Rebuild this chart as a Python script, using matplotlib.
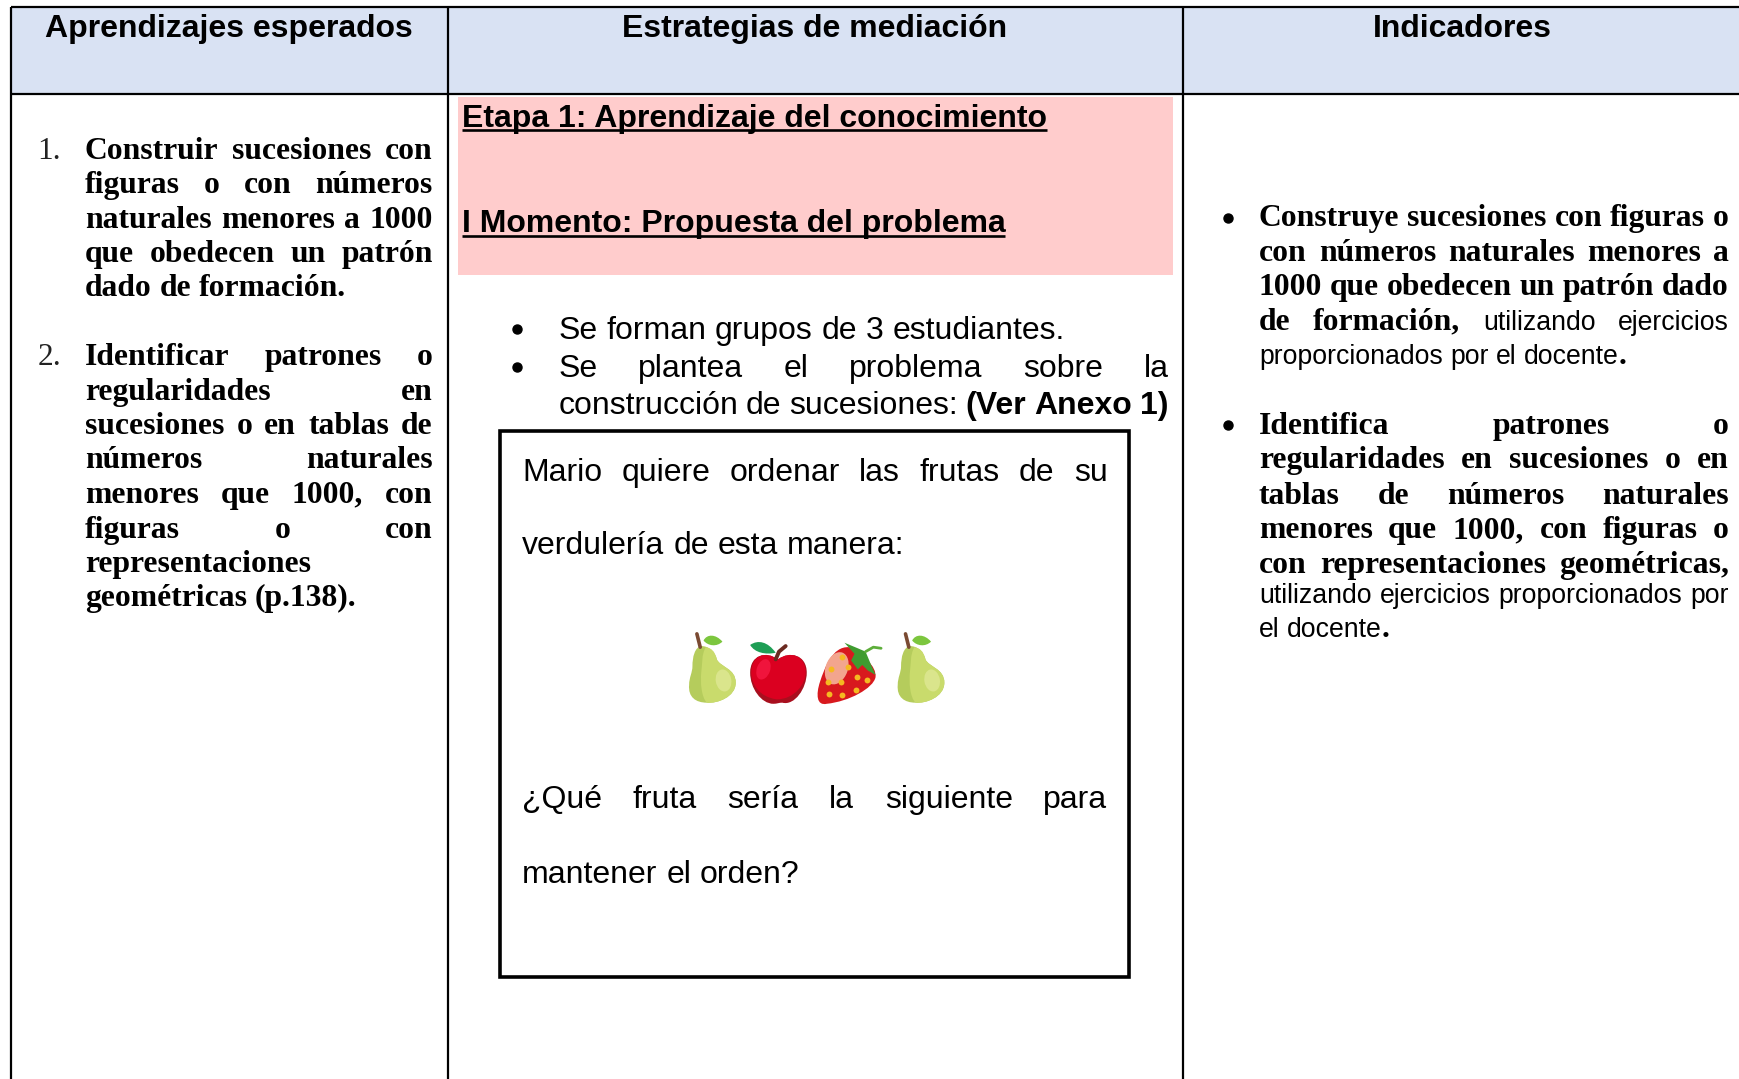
import matplotlib
matplotlib.use('Agg')
import matplotlib.pyplot as plt
from matplotlib.font_manager import FontProperties
from matplotlib.path import Path
from matplotlib.patches import PathPatch, Rectangle, Ellipse, Polygon

# everything below is in the 1568x972 coordinates of the shrunk reference
SCALE = 1740 / 1568

headers = ['Aprendizajes esperados', 'Estrategias de mediación', 'Indicadores']
header_centers = [206, 734, 1318]

B = 'serif'
N = 'sans'
A = 'sansb'

col1_numbers = ['1.', '2.']
col1_number_y = [143, 329]
col1_lines = [
    ('Construir sucesiones con', 143, True),
    ('figuras o con números', 174, True),
    ('naturales menores a 1000', 205, True),
    ('que obedecen un patrón', 236, True),
    ('dado de formación.', 267, False),
    ('Identificar patrones o', 329, True),
    ('regularidades en', 360, True),
    ('sucesiones o en tablas de', 391, True),
    ('números naturales', 422, True),
    ('menores que 1000, con', 453, True),
    ('figuras o con', 485, True),
    ('representaciones', 515, False),
    ('geométricas (p.138).', 546, False),
]

col3_bullet_y = [196, 383]
col3_lines = [
    ([('Construye sucesiones con figuras o', B)], 204, True),
    ([('con números naturales menores a', B)], 235, True),
    ([('1000 que obedecen un patrón dado', B)], 266, True),
    ([('de formación, ', B), ('utilizando ejercicios', N)], 297, True),
    ([('proporcionados por el docente', N), ('.', B)], 328, False),
    ([('Identifica patrones o', B)], 391, True),
    ([('regularidades en sucesiones o en', B)], 422, True),
    ([('tablas de números naturales', B)], 454, True),
    ([('menores que 1000, con figuras o', B)], 485, True),
    ([('con representaciones geométricas,', B)], 516, True),
    ([('utilizando ejercicios proporcionados por', N)], 543, True),
    ([('el docente', N), ('.', B)], 574, False),
]

stage_lines = [('Etapa 1: Aprendizaje del conocimiento', 114), ('I Momento: Propuesta del problema', 209)]

col2_bullet_y = [296, 331]
col2_lines = [
    ([('Se forman grupos de 3 estudiantes.', N)], 305, False),
    ([('Se plantea el problema sobre la', N)], 340, True),
    ([('construcción de sucesiones: ', N), ('(Ver Anexo 1)', A)], 373, True),
]

box_lines = [
    ('Mario quiere ordenar las frutas de su', 433, True),
    ('verdulería de esta manera:', 499, False),
    ('¿Qué fruta sería la siguiente para', 728, True),
    ('mantener el orden?', 795, False),
]

pear_x = [642, 830]
seed_x = [759, 749, 764, 746, 758, 772, 781, 747, 759, 771]
seed_y = [592, 603, 601, 614, 614, 610, 613, 625, 626, 622]

serif_bold = FontProperties(family='Liberation Serif', weight='bold', size=22.8)
sans_body = FontProperties(family='Liberation Sans', size=23)
sans_bold = FontProperties(family='Liberation Sans', weight='bold', size=23)
col3_sans = FontProperties(family='Liberation Sans', size=19.2)

fig = plt.figure(figsize=(17.4, 10.79), dpi=100)
ax = fig.add_axes([0, 0, 1, 1])
ax.set_xlim(0, 1568)
ax.set_ylim(972, 0)
ax.axis('off')
renderer = fig.canvas.get_renderer()


def text_width(s, font):
    w, h, d = renderer.get_text_width_height_descent(s, font, False)
    return w / SCALE


def draw_line(runs, x0, x1, y, justify, styles):
    # split runs in words, a run that starts without a space sticks to the last word
    words = [[]]
    for text, style in runs:
        parts = text.split(' ')
        if parts[0]:
            words[-1].append((parts[0], style))
        for part in parts[1:]:
            if part:
                words.append([(part, style)])
            else:
                words.append([])
    words = [w for w in words if w]
    widths = [sum(text_width(p, styles[s]) for p, s in w) for w in words]
    gap = text_width('n n', styles[runs[0][1]]) - 2 * text_width('n', styles[runs[0][1]])
    if justify and len(words) > 1:
        gap = (x1 - x0 - sum(widths)) / (len(words) - 1)
    x = x0
    for word, width in zip(words, widths):
        px = x
        for part, style in word:
            ax.text(px, y, part, fontproperties=styles[style], va='baseline', ha='left', color='#000000')
            px += text_width(part, styles[style])
        x += width + gap


def curve(points, **kw):
    # closed shape from a start point and triples of bezier points
    codes = [Path.MOVETO] + [Path.CURVE4] * (len(points) - 1)
    patch = PathPatch(Path(points, codes), lw=0, **kw)
    ax.add_patch(patch)


def shifted(cx, pts):
    return [(cx + a, b) for a, b in pts]


def draw_pear(cx):
    body = [(-10, 582), (-4, 582), (2, 586), (4, 594), (7, 601), (21, 602), (21, 615), (21, 628), (4, 634), (-5, 633),
            (-15, 633), (-22, 628), (-21, 617), (-21, 610), (-18, 606), (-18, 600), (-18, 592), (-16, 583), (-10, 582)]
    curve(shifted(cx, body), color='#B5CC5C')
    light = [(-6, 583), (-1, 584), (2, 586), (4, 594), (7, 601), (21, 602), (21, 615), (21, 628), (4, 634), (-5, 633),
             (-10, 628), (-11, 615), (-10, 605), (-9, 598), (-10, 590), (-6, 583)]
    curve(shifted(cx, light), color='#C9DB6C')
    ax.add_patch(Ellipse((cx + 10, 613), 14, 20, angle=-10, color='#DAE58C', lw=0))
    ax.plot([cx - 14, cx - 11], [571, 583], color='#7A4A32', lw=2.6, solid_capstyle='round')
    leaf = [(-8, 577), (-5, 571), (3, 571), (9, 578), (4, 583), (-4, 582), (-8, 577)]
    curve(shifted(cx, leaf), color='#7CC63E')


def draw_apple():
    body = [(701, 594), (690, 586), (676, 590), (676, 606), (676, 620), (686, 634), (697, 634), (700, 634), (702, 633), (705, 633),
            (716, 636), (727, 620), (727, 606), (727, 590), (712, 586), (701, 594)]
    curve(body, color='#A80F1E')
    top = [(701, 594), (690, 586), (677, 590), (677, 606), (677, 616), (684, 628), (700, 630), (716, 630), (726, 616), (726, 606),
           (726, 590), (712, 586), (701, 594)]
    curve(top, color='#DB0020')
    ax.add_patch(Ellipse((688, 603), 12, 19, angle=20, color='#F0143C', lw=0))
    ax.plot([699, 702, 708], [594, 587, 582], color='#6B2A20', lw=2.8, solid_capstyle='round')
    leaf = [(676, 581), (683, 576), (692, 578), (699, 588), (690, 590), (680, 588), (676, 581)]
    curve(leaf, color='#1E9E55')


def draw_strawberry():
    body = [(765, 583), (778, 590), (790, 600), (789, 610), (787, 620), (765, 632), (745, 634), (736, 636), (735, 626), (739, 614),
            (743, 602), (750, 582), (765, 583)]
    curve(body, color='#D8191E')
    ax.add_patch(Ellipse((754, 602), 20, 30, angle=20, color='#F3A58E', lw=0))
    ax.scatter(seed_x, seed_y, s=18, color='#F5B921', zorder=3, lw=0)
    calyx = [(761, 579), (773, 584), (780, 587), (785, 599), (789, 608), (782, 604), (777, 599), (773, 603), (767, 595), (770, 589)]
    ax.add_patch(Polygon(calyx, closed=True, color='#3F9C30', lw=0, zorder=4))
    ax.plot([780, 787, 794], [587, 583, 584], color='#5DAE3A', lw=2.0, solid_capstyle='round', zorder=4)


# header fill and pink block
ax.add_patch(Rectangle((10, 6), 1558, 79, color='#D9E2F3', lw=0, zorder=0))
ax.add_patch(Rectangle((413, 87), 644, 161, color='#FFCCCC', lw=0, zorder=0))

# table lines
line_kw = dict(color='#000000', lw=1.6, solid_capstyle='butt')
ax.plot([10, 1568], [6, 6], **line_kw)
ax.plot([10, 1568], [85, 85], **line_kw)
for x in [10, 404, 1066]:
    ax.plot([x, x], [6, 972], **line_kw)

for label, x in zip(headers, header_centers):
    ax.text(x, 33, label, fontproperties=sans_bold, ha='center', va='baseline', color='#000000')

# column 1
for label, y in zip(col1_numbers, col1_number_y):
    ax.text(34, y, label, fontproperties=FontProperties(family='Liberation Serif', size=22.6), va='baseline', color='#222222')
for text, y, justify in col1_lines:
    draw_line([(text, B)], 76.5, 390, y, justify, {B: serif_bold})

# column 2
for text, y in stage_lines:
    ax.text(416, y, text, fontproperties=sans_bold, va='baseline')
    ax.plot([416, 416 + text_width(text, sans_bold)], [y + 3.5, y + 3.5], color='#000000', lw=1.9, solid_capstyle='butt')

ax.plot([466] * len(col2_bullet_y), col2_bullet_y, 'o', color='#000000', ms=6.5, ls='none')
col2_styles = {N: sans_body, A: sans_bold}
for runs, y, justify in col2_lines:
    draw_line(runs, 503, 1053, y, justify, col2_styles)

ax.add_patch(Rectangle((451, 388), 566.5, 492.5, fill=False, ec='#000000', lw=2.6))
for text, y, justify in box_lines:
    draw_line([(text, N)], 470.5, 998, y, justify, {N: sans_body})

for x in pear_x:
    draw_pear(x)
draw_apple()
draw_strawberry()

# column 3
ax.plot([1107] * len(col3_bullet_y), col3_bullet_y, 'o', color='#000000', ms=6.5, ls='none')
col3_styles = {B: serif_bold, N: col3_sans}
for runs, y, justify in col3_lines:
    draw_line(runs, 1134.5, 1558, y, justify, col3_styles)

fig.savefig('out.png', dpi=100)
